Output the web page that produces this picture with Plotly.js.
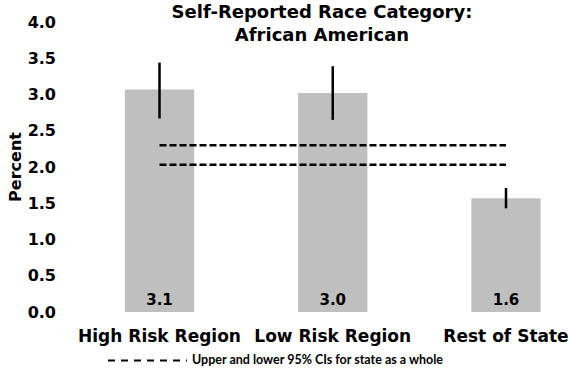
<!DOCTYPE html>
<html>
<head>
<meta charset="utf-8">
<script src="https://cdn.plot.ly/plotly-3.0.1.min.js"></script>
<style>html,body{margin:0;padding:0;background:#fff;}#chart{width:568px;height:371px;}</style>
</head>
<body>
<div id="chart"></div>
<script>
// ---- data ----
const categories = ["High Risk Region", "Low Risk Region", "Rest of State"];
const percentValues = [3.07, 3.02, 1.57];
const ciUpperBars = [3.44, 3.39, 1.71];
const ciLowerBars = [2.67, 2.65, 1.43];
const stateCiUpper = 2.30;
const stateCiLower = 2.03;
const yTickValues = [0, 0.5, 1, 1.5, 2, 2.5, 3, 3.5, 4];
const chartTitle = "Self-Reported Race Category:<br>African American";
const yTitle = "Percent";
const legendLabel = "Upper and lower 95% CIs for state as a whole";

const FONT = "DejaVu Sans, Arial, sans-serif";

const bars = {
  type: "bar",
  x: categories,
  y: percentValues,
  marker: {color: "#BFBFBF"},
  error_y: {
    type: "data",
    symmetric: false,
    array: percentValues.map((v, i) => ciUpperBars[i] - v),
    arrayminus: percentValues.map((v, i) => v - ciLowerBars[i]),
    width: 0,
    thickness: 2.5,
    color: "#000"
  },
  text: percentValues.map(v => v.toFixed(1)),
  texttemplate: "<b>%{text}</b>",
  textposition: "inside",
  insidetextanchor: "start",
  textangle: 0,
  constraintext: "none",
  textfont: {family: FONT, size: 15, color: "#000"},
  hoverinfo: "skip",
  showlegend: false
};

const stateCi = {
  type: "scatter",
  mode: "lines",
  x: [categories[0], categories[2], null, categories[0], categories[2]],
  y: [stateCiUpper, stateCiUpper, null, stateCiLower, stateCiLower],
  line: {color: "#000", width: 2.5, dash: "7px,3px"},
  connectgaps: false,
  showlegend: false,
  hoverinfo: "skip"
};

const layout = {
  width: 568,
  height: 371,
  margin: {l: 65, r: 8, t: 22, b: 58.5, pad: 0},
  paper_bgcolor: "#fff",
  plot_bgcolor: "#fff",
  bargap: 0.6,
  title: {
    text: "<b>" + chartTitle + "</b>",
    font: {family: FONT, size: 18, color: "#000"},
    x: 322 / 568,
    xanchor: "center",
    xref: "container",
    y: 1 - 18 / 371,
    yanchor: "top",
    yref: "container",
    pad: {t: 0}
  },
  xaxis: {
    type: "category",
    range: [-0.5455, 2.3117],
    showgrid: false,
    zeroline: false,
    showline: false,
    ticks: "",
    tickfont: {family: FONT, size: 17, color: "#000", weight: "bold"},
    ticklabelstandoff: 12
  },
  yaxis: {
    range: [0, 4],
    tickvals: yTickValues,
    tickformat: ".1f",
    showgrid: false,
    zeroline: false,
    showline: false,
    ticks: "",
    tickfont: {family: FONT, size: 16, color: "#000", weight: "bold"},
    ticklabelstandoff: 8,
    title: {text: "<b>" + yTitle + "</b>", font: {family: FONT, size: 16, color: "#000"}, standoff: 2}
  },
  shapes: [{
    type: "line",
    xref: "paper", yref: "paper",
    x0: (108 - 65) / 495, x1: (187 - 65) / 495,
    y0: (312.5 - 361) / 290.5, y1: (312.5 - 361) / 290.5,
    line: {color: "#000", width: 2, dash: "7px,6px"}
  }],
  annotations: [{
    xref: "paper", yref: "paper",
    x: (190 - 65) / 495, y: (312.5 - 360) / 290.5,
    xanchor: "left", yanchor: "middle",
    showarrow: false,
    text: "<b>" + legendLabel + "</b>",
    font: {family: "Lato, sans-serif", size: 12.5, color: "#000"}
  }]
};

Plotly.newPlot("chart", [bars, stateCi], layout, {displayModeBar: false, staticPlot: true});
</script>
</body>
</html>
